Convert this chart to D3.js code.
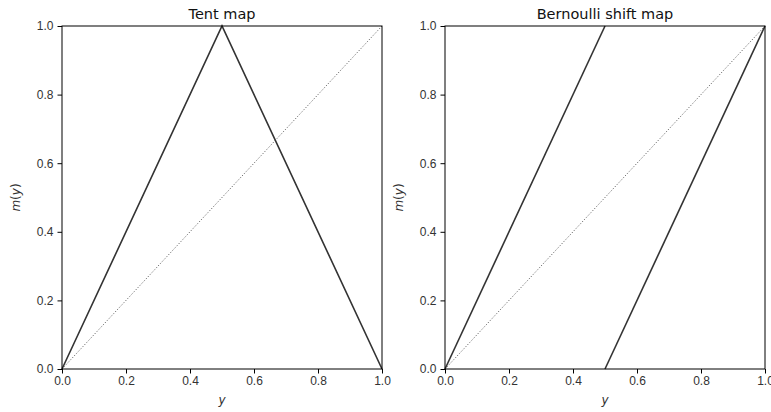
<!DOCTYPE html>
<html>
<head>
<meta charset="utf-8">
<script src="https://cdn.jsdelivr.net/npm/d3@7"></script>
<style>
body { margin: 0; background: #fff; }
svg { font-family: "DejaVu Sans", sans-serif; }
.tick text { font-size: 12px; fill: #333; }
</style>
</head>
<body>
<script>
const WIDTH = 771;
const HEIGHT = 412;
const TOP = 26;
const BOTTOM = 369;

const tickValues = [0, 0.2, 0.4, 0.6, 0.8, 1.0];
const titles = ["Tent map", "Bernoulli shift map"];
// map segments, each a list of [y, m(y)] points
const tentSegments = [[[0, 0], [0.5, 1], [1, 0]]];
const bernoulliSegments = [[[0, 0], [0.5, 1]], [[0.5, 0], [1, 1]]];
const diagonal = [[0, 0], [1, 1]];

const panels = [
	{ left: 62, right: 382, title: titles[0], segments: tentSegments },
	{ left: 445, right: 765, title: titles[1], segments: bernoulliSegments }
];

var svg = d3.select('body').append('svg')
	.attr('width', WIDTH)
	.attr('height', HEIGHT);

panels.forEach(function(p){
	var x = d3.scaleLinear().domain([0, 1]).range([p.left, p.right]);
	var y = d3.scaleLinear().domain([0, 1]).range([BOTTOM, TOP]);
	var line = d3.line().x(function(d){ return x(d[0]); }).y(function(d){ return y(d[1]); });

	var g = svg.append('g');

	// dotted identity line
	g.append('path')
		.attr('d', line(diagonal))
		.attr('fill', 'none')
		.attr('stroke', '#666')
		.attr('stroke-width', 1)
		.attr('stroke-dasharray', '1.2,1.8');

	p.segments.forEach(function(seg){
		g.append('path')
			.attr('d', line(seg))
			.attr('fill', 'none')
			.attr('stroke', '#333')
			.attr('stroke-width', 1.6);
	});

	var xAxis = d3.axisBottom(x).tickValues(tickValues).tickFormat(d3.format('.1f')).tickSize(4.5).tickSizeOuter(0).tickPadding(3);
	var yAxis = d3.axisLeft(y).tickValues(tickValues).tickFormat(d3.format('.1f')).tickSize(4.5).tickSizeOuter(0).tickPadding(4);

	g.append('g').attr('transform', 'translate(0,' + BOTTOM + ')').call(xAxis)
		.call(function(s){ s.select('.domain').remove(); });
	g.append('g').attr('transform', 'translate(' + p.left + ',0)').call(yAxis)
		.call(function(s){ s.select('.domain').remove(); });
	g.selectAll('.tick line').attr('stroke', '#000').attr('stroke-width', 1);

	// spines
	g.append('rect')
		.attr('x', p.left).attr('y', TOP)
		.attr('width', p.right - p.left).attr('height', BOTTOM - TOP)
		.attr('fill', 'none').attr('stroke', '#000').attr('stroke-width', 1);

	g.append('text')
		.attr('x', (p.left + p.right) / 2).attr('y', 19)
		.attr('text-anchor', 'middle')
		.attr('font-size', 14.5).attr('fill', '#111')
		.text(p.title);

	g.append('text')
		.attr('x', (p.left + p.right) / 2).attr('y', 404)
		.attr('text-anchor', 'middle')
		.attr('font-size', 12).attr('font-style', 'italic').attr('fill', '#333')
		.text('y');

	var yl = g.append('text')
		.attr('transform', 'translate(' + (p.left - 42) + ',' + ((TOP + BOTTOM) / 2) + ') rotate(-90)')
		.attr('text-anchor', 'middle')
		.attr('font-size', 12).attr('fill', '#333');
	yl.append('tspan').attr('font-style', 'italic').text('m');
	yl.append('tspan').text('(');
	yl.append('tspan').attr('font-style', 'italic').text('y');
	yl.append('tspan').text(')');
});
</script>
</body>
</html>
